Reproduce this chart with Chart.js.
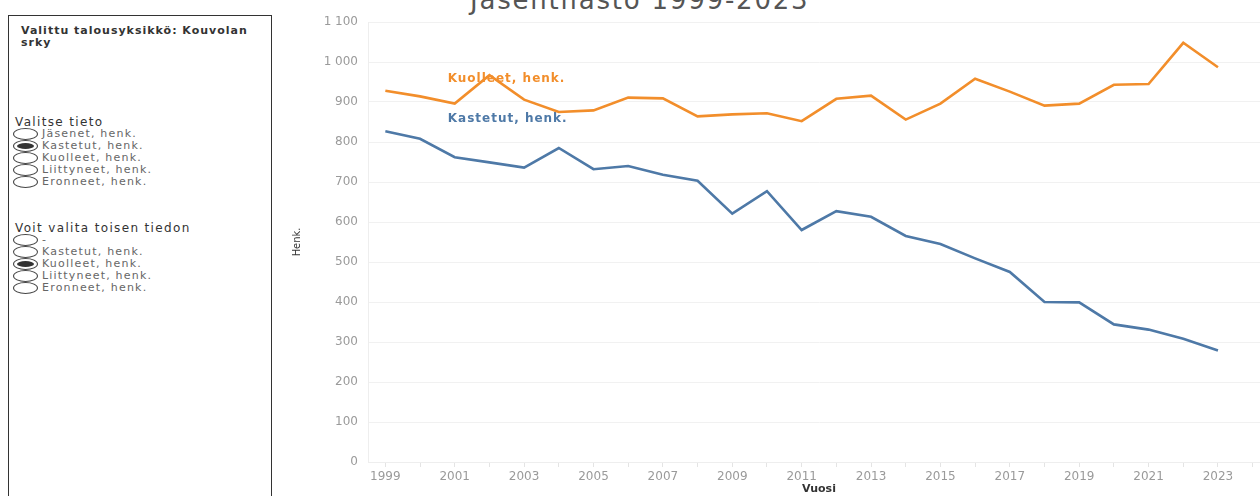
<!DOCTYPE html>
<html>
<head>
<meta charset="utf-8">
<script src="https://cdn.jsdelivr.net/npm/chart.js@4.4.1/dist/chart.umd.min.js"></script>
<style>
  body { margin:0; width:1260px; height:496px; overflow:hidden; background:#fff; position:relative;
         font-family:"DejaVu Sans", sans-serif; }
  .panel { position:absolute; left:8px; top:15px; width:264px; height:520px; border:1px solid #333; box-sizing:border-box; }
  .txt { position:absolute; white-space:nowrap; }
  .sel { left:12px; top:9px; font-size:11px; font-weight:bold; line-height:12px; color:#333; letter-spacing:1px; }
  .head { left:6px; font-size:12px; line-height:12px; color:#333; letter-spacing:1.35px; }
  .row { position:absolute; left:4px; width:250px; height:12px; font-size:11px; line-height:12px; color:#666; letter-spacing:1.2px; white-space:nowrap; }
  .radio { position:absolute; left:0; top:0; width:23px; height:10px; border:1px solid #444; border-radius:50%; }
  .radio.on::after { content:''; position:absolute; left:3px; top:2px; width:17px; height:6px; border-radius:50%; background:#333; }
  .row span { position:absolute; left:29px; top:0; }
  .title { position:absolute; left:470px; top:-13px; font-size:26px; line-height:26px; color:#555; letter-spacing:1.8px; white-space:nowrap; }
  .chart-wrap { position:absolute; left:278px; top:0; width:992px; height:496px; }
</style>
</head>
<body>
<div class="panel" id="panel">
  <div class="txt sel">Valittu talousyksikkö: Kouvolan<br>srky</div>
</div>
<div class="title">Jäsentilasto 1999-2023</div>
<div class="chart-wrap"><canvas id="c"></canvas></div>
<script>
const years = [1999, 2000, 2001, 2002, 2003, 2004, 2005, 2006, 2007, 2008, 2009, 2010, 2011,
               2012, 2013, 2014, 2015, 2016, 2017, 2018, 2019, 2020, 2021, 2022, 2023, 2024];
const kuolleet = [928, 914, 896, 967, 906, 875, 879, 911, 909, 864, 869, 872, 852,
                  908, 916, 856, 896, 958, 926, 891, 896, 943, 945, 1048, 987, null];
const kastetut = [827, 808, 762, 749, 736, 785, 732, 740, 718, 703, 621, 677, 580,
                  627, 613, 565, 545, 509, 475, 400, 399, 344, 331, 308, 279, null];
const group1 = ['Jäsenet, henk.', 'Kastetut, henk.', 'Kuolleet, henk.', 'Liittyneet, henk.', 'Eronneet, henk.'];
const group2 = ['-', 'Kastetut, henk.', 'Kuolleet, henk.', 'Liittyneet, henk.', 'Eronneet, henk.'];

const ORANGE = '#F28E2B', BLUE = '#4E79A7';

// left filter panel
const panel = document.getElementById('panel');
function addGroup(title, items, selected, top) {
  const h = document.createElement('div');
  h.className = 'txt head'; h.style.top = top + 'px'; h.textContent = title;
  panel.appendChild(h);
  items.forEach((t, i) => {
    const r = document.createElement('div');
    r.className = 'row'; r.style.top = (top + 12 + i * 12) + 'px';
    r.innerHTML = '<div class="radio' + (i === selected ? ' on' : '') + '"></div><span>' + t + '</span>';
    panel.appendChild(r);
  });
}
addGroup('Valitse tieto', group1, 1, 100);
addGroup('Voit valita toisen tiedon', group2, 2, 206);

// series name labels, drawn under the lines
const seriesLabels = {
  id: 'seriesLabels',
  beforeDatasetsDraw(chart) {
    const { ctx, scales: { x, y } } = chart;
    ctx.save();
    ctx.font = 'bold 12px "DejaVu Sans"';
    ctx.letterSpacing = '1px';
    ctx.textBaseline = 'middle';
    ctx.fillStyle = ORANGE;
    ctx.fillText('Kuolleet, henk.', x.getPixelForValue(2) - 7, y.getPixelForValue(958));
    ctx.fillStyle = BLUE;
    ctx.fillText('Kastetut, henk.', x.getPixelForValue(2) - 7, y.getPixelForValue(857));
    ctx.restore();
  }
};

const tickFont = { family: '"DejaVu Sans"', size: 12 };
new Chart(document.getElementById('c').getContext('2d'), {
  type: 'line',
  data: {
    labels: years,
    datasets: [
      { label: 'Kuolleet, henk.', data: kuolleet, borderColor: ORANGE, borderWidth: 2.6, pointRadius: 0, tension: 0 },
      { label: 'Kastetut, henk.', data: kastetut, borderColor: BLUE, borderWidth: 2.6, pointRadius: 0, tension: 0 },
    ],
  },
  options: {
    responsive: true, maintainAspectRatio: false, animation: false,
    layout: { padding: { top: 22, left: 0, right: 0, bottom: 0 } },
    plugins: { legend: { display: false }, tooltip: { enabled: false } },
    scales: {
      x: {
        offset: true,
        grid: { drawOnChartArea: false, tickLength: 5, color: '#e4e4e4' },
        border: { color: '#eeeeee' },
        ticks: {
          autoSkip: false, maxRotation: 0, color: '#9a9a9a', font: tickFont, padding: 3,
          callback: (v, i) => (years[i] % 2 ? String(years[i]) : ''),
        },
        title: { display: true, text: 'Vuosi', color: '#333', font: { family: '"DejaVu Sans"', size: 11, weight: 'bold' }, padding: 0 },
        afterFit: s => { s.height = 34; },
      },
      y: {
        min: 0, max: 1100,
        grid: { color: '#f1f1f1', drawTicks: false },
        border: { color: '#eeeeee' },
        ticks: {
          stepSize: 100, color: '#9a9a9a', font: tickFont, padding: 10,
          callback: v => (v >= 1000 ? '1 ' + String(v - 1000).padStart(3, '0') : String(v)),
        },
        title: { display: true, text: 'Henk.', color: '#333', font: { family: '"DejaVu Sans Condensed", "DejaVu Sans"', size: 11 }, padding: { top: 13 } },
        afterFit: s => { s.width = 90; },
      },
    },
  },
  plugins: [seriesLabels],
});
</script>
</body>
</html>
